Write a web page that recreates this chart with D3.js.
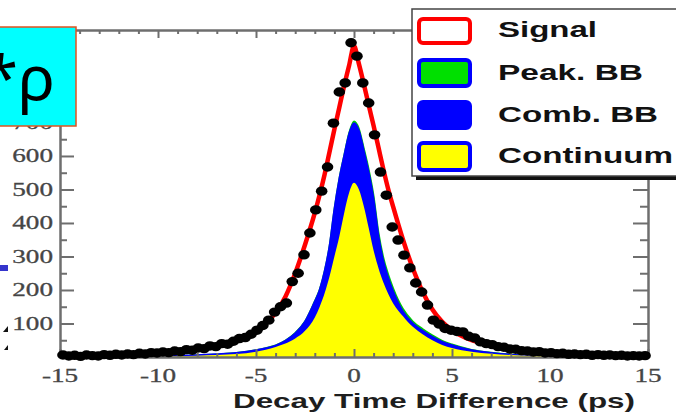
<!DOCTYPE html>
<html><head><meta charset="utf-8">
<script src="https://cdn.jsdelivr.net/npm/d3@7"></script>
<style>html,body{margin:0;padding:0;background:#fff;overflow:hidden}</style>
</head><body>
<svg id="c" width="676" height="412"></svg>
<script>
// ---- data ----
const modelX = [-15,-14,-13,-12,-11,-10,-9,-8,-7,-6,-5,-4.5,-4,-3.5,-3,-2.5,-2,-1.75,-1.5,-1.25,-1,-0.75,-0.5,-0.25,0,0.25,0.5,0.75,1,1.25,1.5,1.75,2,2.5,3,3.5,4,4.5,5,6,7,8,9,10,11,12,13,14,15];
const continuum = [0.4,0.5,0.7,1,1.3,1.8,2.5,4,6,9,16,22,30,40,55,78,118,150,190,240,300,360,430,490,520,500,450,385,318,265,222,188,160,122,90,68,50,36,27,16,10,6,4,2.5,1.8,1.2,0.8,0.6,0.5];
const combBB = [0.4,0.5,0.5,0.5,0.7,0.7,1,1,2,3,4,4,4,8,15,27,47,50,65,90,140,170,170,175,178,175,165,165,152,95,63,47,35,13,10,10,10,9,8,4,2,1,1,1,0.7,0.8,0.7,0.6,0.5];
const peakBB = [0.1,0.1,0.1,0.1,0.1,0.1,0.2,0.3,0.4,0.5,0.8,1,1.2,1.5,2,2,3,3,3,3,4,4,4,5,6,8,10,12,14,14,13,12,11,9,7,6,5,4,3,2,1.5,1,0.7,0.5,0.4,0.3,0.2,0.2,0.1];
const totalFit = [3,4,5,6.5,9,12,17,24,33,47,76,100,132,180,250,335,430,485,545,612,680,745,810,870,928,875,815,752,690,625,560,500,448,350,265,195,142,105,80,50,35,25,18,13,9.5,7,5,4,3];

const dataCounts = [6,3,5,2,6,4,3,7,5,8,6,9,7,11,9,13,12,15,13,18,16,22,20,27,25,33,31,40,38,47,55,58,68,80,94,110,134,150,161,225,250,305,370,439,495,567,698,791,818,938,
  898,818,758,663,552,483,388,349,304,266,221,194,155,110,98,85,80,76,75,62,57,45,40,37,31,29,24,23,19,18,15,16,12,13,10,11,8,9,7,8,5,7,5,6,4,5,3,4,3,4];
const binCenters = d3.range(dataCounts.length).map(i => -14.85 + 0.3 * i);

const xTicks = [-15,-10,-5,0,5,10,15];
const xTickLabels = ["-15","-10","-5","0","5","10","15"];
const yTicks = [100,200,300,400,500,600,700];
const yTickLabels = ["100","200","300","400","500","600","700"];
const legendLabels = ["Signal","Peak. BB","Comb. BB","Continuum"];
const legendFill = ["#ffffff","#00e000","#0000ff","#ffff00"];
const legendStroke = ["#ff0000","#0000ff","#0000ff","#0000ff"];
const legendWidths = [99,145,160,175];

// ---- drawing ----
const svg = d3.select("#c");
const W = 676, H = 412;
const x = d3.scaleLinear().domain([-15, 15]).range([60, 648]);
const y = d3.scaleLinear().domain([0, 976]).range([357, 30]);

svg.append("rect").attr("width", W).attr("height", H).attr("fill", "#fff");
svg.append("defs").append("clipPath").attr("id", "plot")
  .append("rect").attr("x", 60).attr("y", 30).attr("width", 588).attr("height", 327);

const stack = modelX.map((v, i) => ({
  x: v,
  c: continuum[i],
  b: continuum[i] + combBB[i],
  p: continuum[i] + combBB[i] + peakBB[i],
  t: totalFit[i]
}));
const area = key => d3.area().x(d => x(d.x)).y0(y(0)).y1(d => y(d[key])).curve(d3.curveMonotoneX);
const gp = svg.append("g").attr("clip-path", "url(#plot)");
gp.append("path").datum(stack).attr("d", area("p")).attr("fill", "#00dd00").attr("stroke", "#00cc00").attr("stroke-width", 1.5);
gp.append("path").datum(stack).attr("d", area("b")).attr("fill", "#0000ff").attr("stroke", "#0000ff").attr("stroke-width", 2);
gp.append("path").datum(stack).attr("d", area("c")).attr("fill", "#ffff00");

// axes
const AX = "#6e6e6e";
function styleAxis(sel) {
  sel.select(".domain").attr("stroke", AX).attr("stroke-width", 2);
  sel.selectAll(".tick line").attr("stroke", AX).attr("stroke-width", 2);
  sel.selectAll("text").remove();
}
const yMajor = d3.range(0, 1000, 100);
const yMinor = d3.range(50, 1000, 100);
const xMajor = d3.range(-15, 16, 5);
const xMinor = d3.range(-15, 16, 1).filter(v => v % 5 !== 0);
svg.append("g").attr("transform", "translate(60,0)").call(d3.axisLeft(y).tickValues(yMajor).tickSize(-14).tickSizeOuter(0).tickFormat("")).call(styleAxis);
svg.append("g").attr("transform", "translate(60,0)").call(d3.axisLeft(y).tickValues(yMinor).tickSize(-7).tickSizeOuter(0).tickFormat("")).call(styleAxis);
svg.append("g").attr("transform", "translate(648,0)").call(d3.axisRight(y).tickValues(yMajor).tickSize(-15).tickSizeOuter(0).tickFormat("")).call(styleAxis);
svg.append("g").attr("transform", "translate(648,0)").call(d3.axisRight(y).tickValues(yMinor).tickSize(-8).tickSizeOuter(0).tickFormat("")).call(styleAxis);
svg.append("g").attr("transform", "translate(0,30)").call(d3.axisTop(x).tickValues(xMajor).tickSize(-8).tickSizeOuter(0).tickFormat("")).call(styleAxis);
svg.append("g").attr("transform", "translate(0,30)").call(d3.axisTop(x).tickValues(xMinor).tickSize(-4).tickSizeOuter(0).tickFormat("")).call(styleAxis);
svg.append("g").attr("transform", "translate(0,357)").call(d3.axisBottom(x).tickValues(xMajor).tickSize(-8).tickSizeOuter(0).tickFormat("")).call(styleAxis);
svg.append("g").attr("transform", "translate(0,357)").call(d3.axisBottom(x).tickValues(xMinor).tickSize(-4).tickSizeOuter(0).tickFormat("")).call(styleAxis);

// tick labels (horizontally stretched like the source picture)
const SX = 1.47;
svg.append("g").selectAll("text").data(yTicks).join("text")
  .attr("transform", d => `translate(53,${y(d) + 6.3}) scale(${SX},1)`)
  .attr("text-anchor", "end")
  .attr("font-family", "'Liberation Serif', 'Times New Roman', serif")
  .attr("font-size", 18.5).attr("fill", "#454545")
  .attr("stroke", "#454545").attr("stroke-width", 0.3)
  .text((d, i) => yTickLabels[i]);
svg.append("g").selectAll("text").data(xTicks).join("text")
  .attr("transform", d => `translate(${x(d)},382) scale(${SX},1)`)
  .attr("text-anchor", "middle")
  .attr("font-family", "'Liberation Serif', 'Times New Roman', serif")
  .attr("font-size", 18.5).attr("fill", "#454545")
  .attr("stroke", "#454545").attr("stroke-width", 0.3)
  .text((d, i) => xTickLabels[i]);

svg.append("text").attr("x", 233).attr("y", 408)
  .attr("font-family", "'Liberation Sans', Arial, sans-serif").attr("font-weight", "bold")
  .attr("font-size", 21).attr("fill", "#1e1e1e")
  .attr("textLength", 402).attr("lengthAdjust", "spacingAndGlyphs")
  .text("Decay Time Difference (ps)");

// data points
svg.append("g").selectAll("ellipse").data(binCenters).join("ellipse")
  .attr("cx", d => x(d)).attr("cy", (d, i) => y(dataCounts[i])).attr("rx", 5.8).attr("ry", 4.7).attr("fill", "#000");

// total fit
gp.append("path").datum(stack)
  .attr("d", d3.line().x(d => x(d.x)).y(d => y(d.t)).curve(d3.curveMonotoneX))
  .attr("fill", "none").attr("stroke", "#ff0000").attr("stroke-width", 4.5).attr("stroke-linejoin", "round");

// legend
const lg = svg.append("g");
lg.append("rect").attr("x", 416).attr("y", 13).attr("width", 300).attr("height", 167).attr("fill", "#111");
lg.append("rect").attr("x", 412).attr("y", 9).attr("width", 300).attr("height", 167).attr("fill", "#fff").attr("stroke", "#444").attr("stroke-width", 1.5);
const swY = [17, 58, 100, 141];
const swH = [28, 30, 30, 31];
const txY = [37, 80, 122, 163];
legendLabels.forEach((lab, i) => {
  lg.append("rect").attr("x", 419).attr("y", swY[i] + 2).attr("width", 51).attr("height", swH[i] - 4)
    .attr("rx", 4).attr("fill", legendFill[i]).attr("stroke", legendStroke[i]).attr("stroke-width", 4);
  lg.append("text").attr("x", 498).attr("y", txY[i])
    .attr("font-family", "'Liberation Sans', Arial, sans-serif").attr("font-weight", "bold")
    .attr("font-size", 22).attr("fill", "#111")
    .attr("textLength", legendWidths[i]).attr("lengthAdjust", "spacingAndGlyphs")
    .text(lab);
});

// slide overlay pieces
svg.append("rect").attr("x", -5).attr("y", 27).attr("width", 81).attr("height", 99)
  .attr("fill", "#00ffff").attr("stroke", "#e0531f").attr("stroke-width", 1.5);
svg.append("text").attr("x", 55).attr("y", 100).attr("text-anchor", "end")
  .attr("font-family", "'Noto Sans', 'Open Sans', sans-serif").attr("font-size", 62).attr("fill", "#000")
  .text("*ρ");
svg.append("rect").attr("x", 0).attr("y", 265).attr("width", 8).attr("height", 6).attr("fill", "#3535cc");
svg.append("path").attr("d", "M3,332 L8,326 L8,332 Z").attr("fill", "#111");
svg.append("path").attr("d", "M4,350 L8,345 L8,350 Z").attr("fill", "#111");
</script>
</body></html>
